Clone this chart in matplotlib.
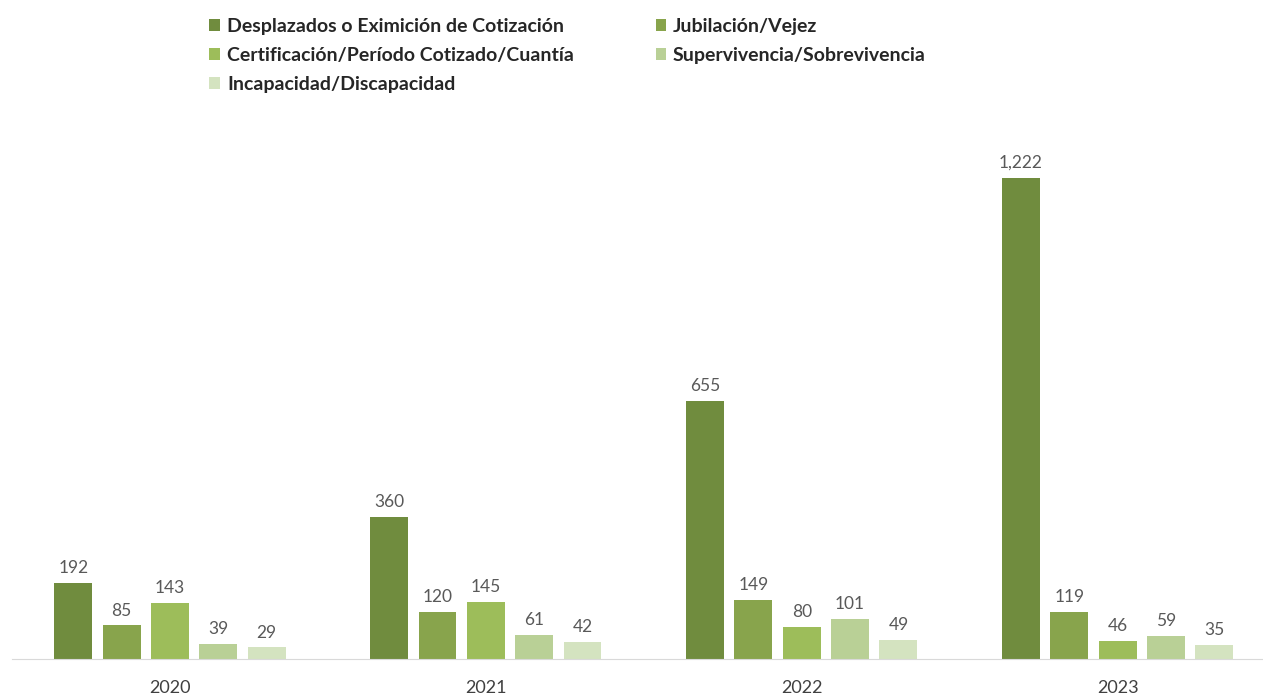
import matplotlib
matplotlib.use("Agg")
import matplotlib.pyplot as plt
import numpy as np

years = ["2020", "2021", "2022", "2023"]
series_names = [
    "Desplazados o Eximición de Cotización",
    "Jubilación/Vejez",
    "Certificación/Período Cotizado/Cuantía",
    "Supervivencia/Sobrevivencia",
    "Incapacidad/Discapacidad",
]
desplazados = [192, 360, 655, 1222]
jubilacion = [85, 120, 149, 119]
certificacion = [143, 145, 80, 46]
supervivencia = [39, 61, 101, 59]
incapacidad = [29, 42, 49, 35]
series_values = [desplazados, jubilacion, certificacion, supervivencia, incapacidad]
colors = ["#708c3e", "#88a44c", "#9dbd5a", "#b9d096", "#d4e3c0"]

plt.rcParams['font.family'] = ['Lato', 'DejaVu Sans']

fig = plt.figure(figsize=(12.63, 6.98), dpi=100)
ax = fig.add_axes([0.0095, 0.056, 0.9905, 0.76])

x = np.arange(len(years))
step = 0.153
width = 0.12
for i, (name, vals, c) in enumerate(zip(series_names, series_values, colors)):
    pos = x + (i - 2) * step
    bars = ax.bar(pos, vals, width=width, color=c, label=name)
    for b, v in zip(bars, vals):
        ax.annotate(f"{v:,}", (b.get_x() + b.get_width() / 2, v),
                    xytext=(0, 5), textcoords="offset points",
                    ha="center", va="bottom", fontsize=12.5, color="#595959")

ax.set_xlim(-0.5, 3.46)
ax.set_ylim(0, 1348)
ax.set_xticks(x)
ax.set_xticklabels(years, fontsize=13, color="#404040")
ax.tick_params(axis='x', length=0, pad=15)
ax.set_yticks([])
for s in ["top", "right", "left"]:
    ax.spines[s].set_visible(False)
ax.spines["bottom"].set_color("#d9d9d9")

handles, labels = ax.get_legend_handles_labels()
order = [0, 2, 4, 1, 3]
leg = fig.legend([handles[i] for i in order], [labels[i] for i in order],
                 loc="upper left", bbox_to_anchor=(0.152, 0.999), ncol=2,
                 frameon=False, handlelength=0.55, handleheight=0.55,
                 handletextpad=0.35, columnspacing=4.2, labelspacing=0.6,
                 prop={'weight': 'bold', 'size': 14})
for t in leg.get_texts():
    t.set_color("#262626")

fig.savefig("out.png", dpi=100)
